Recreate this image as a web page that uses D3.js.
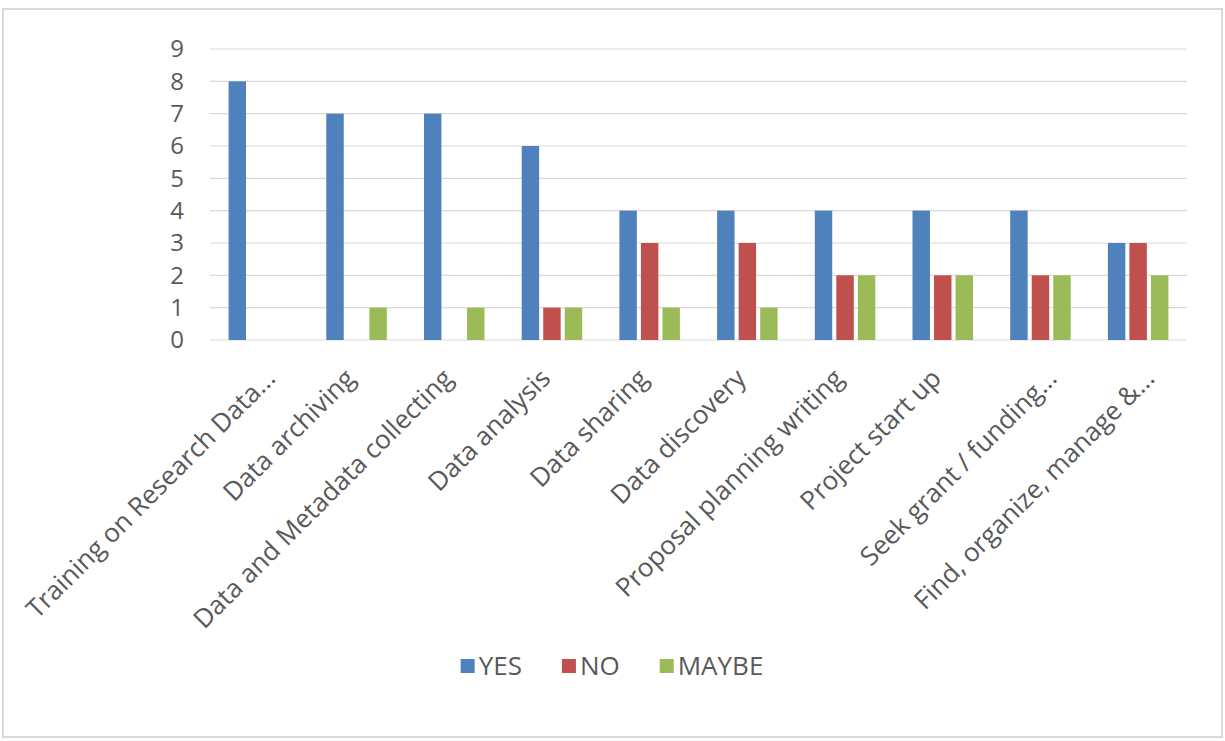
<!DOCTYPE html>
<html><head><meta charset="utf-8">
<script src="https://cdn.jsdelivr.net/npm/d3@7"></script>
<style>
body{margin:0;background:#fff;}
text{font-family:"Open Sans","Noto Sans",sans-serif;fill:#595959;}
</style></head>
<body><svg id="c" width="1225" height="741"></svg>
<script>
const categories = ["Training on Research Data...","Data archiving","Data and Metadata collecting","Data analysis","Data sharing","Data discovery","Proposal planning writing","Project start up","Seek grant / funding...","Find, organize, manage &..."];
const yesValues   = [8,7,7,6,4,4,4,4,4,3];
const noValues    = [0,0,0,1,3,3,2,2,2,3];
const maybeValues = [0,1,1,1,1,1,2,2,2,2];
const seriesNames = ["YES","NO","MAYBE"];
const seriesColors = ["#4F81BD","#C0504D","#9BBB59"];
const yTicks = [0,1,2,3,4,5,6,7,8,9];

const svg = d3.select("#c");
svg.append("rect").attr("x",3).attr("y",9).attr("width",1219).attr("height",728)
  .attr("fill","#fff").attr("stroke","#d9d9d9").attr("stroke-width",2);

const pL=210,pR=1187,pT=49,pB=340;
const x = d3.scaleBand().domain(categories).range([pL,pR]).paddingInner(0).paddingOuter(0);
const y = d3.scaleLinear().domain([0,9]).range([pB,pT]);
const inner = d3.scaleBand().domain(seriesNames).range([18.6, x.bandwidth()-18.6]).paddingInner(0.19);

// gridlines
svg.append("g").selectAll("line").data(yTicks).join("line")
  .attr("x1",pL).attr("x2",pR).attr("y1",d=>y(d)).attr("y2",d=>y(d))
  .attr("stroke","#d9d9d9").attr("stroke-width",1.2);

// y axis labels
const yAxis = d3.axisLeft(y).tickValues(yTicks).tickSize(0).tickPadding(0);
const ga = svg.append("g").attr("transform","translate(184,0)").call(yAxis);
ga.select(".domain").remove();
ga.selectAll("text").attr("font-size",24).attr("fill","#595959")
  .style("font-family",'"Open Sans","Noto Sans",sans-serif').attr("text-anchor","end");

const data = categories.map((c,i)=>({c, vals:[yesValues[i],noValues[i],maybeValues[i]]}));
const groups = svg.append("g").selectAll("g").data(data).join("g")
  .attr("transform",d=>`translate(${x(d.c)},0)`);
groups.selectAll("rect").data(d=>d.vals.map((v,k)=>({v,k}))).join("rect")
  .attr("x",d=>inner(seriesNames[d.k])).attr("width",inner.bandwidth())
  .attr("y",d=>y(d.v)).attr("height",d=>y(0)-y(d.v))
  .attr("fill",d=>seriesColors[d.k]);

// category labels
svg.append("g").selectAll("text").data(categories).join("text")
  .attr("transform",d=>`translate(${x(d)+x.bandwidth()/2+(d.endsWith("...")?18:0)},380) rotate(-45)`)
  .attr("text-anchor","end").attr("font-size",26).text(d=>d);

// legend
const lgG = svg.append("g");
const gap = 40;
let cx = 0;
seriesNames.forEach((n,i)=>{
  lgG.append("rect").attr("x",cx).attr("y",-7).attr("width",14).attr("height",14).attr("fill",seriesColors[i]);
  const t = lgG.append("text").attr("x",cx+18).attr("y",9).attr("font-size",26).text(n);
  cx += 18 + t.node().getComputedTextLength() + gap;
});
const totalW = cx - gap;
lgG.attr("transform",`translate(${612 - totalW/2},666)`);
</script></body></html>
